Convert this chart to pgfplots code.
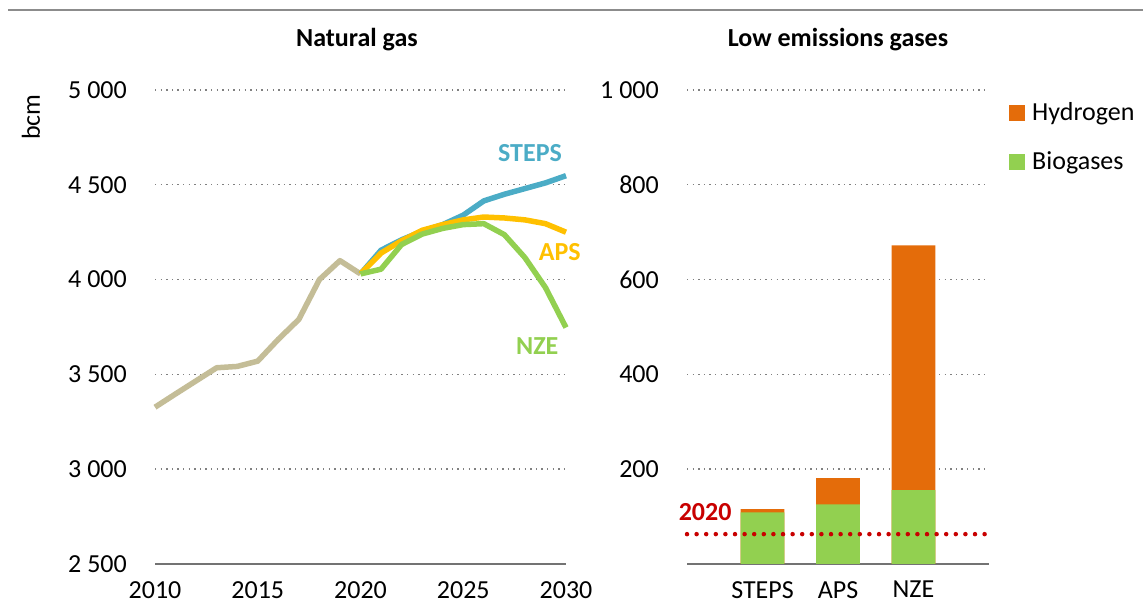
\documentclass[border=0pt]{standalone}
\usepackage{fontspec}
\setmainfont{Carlito}
\usepackage{pgfplots}
\pgfplotsset{compat=1.18}
\definecolor{histc}{RGB}{196,189,151}
\definecolor{stepsc}{RGB}{75,172,198}
\definecolor{apsc}{RGB}{255,192,0}
\definecolor{nzec}{RGB}{146,208,80}
\definecolor{h2c}{RGB}{228,108,10}
\definecolor{bioc}{RGB}{146,208,80}
\definecolor{redc}{RGB}{200,0,0}
\newcommand{\bigf}{\fontsize{26}{31}\selectfont}
\pgfplotsset{mystyle/.style={
  scale only axis, height=474pt, clip=false,
  axis x line*=bottom, axis y line*=left,
  y axis line style={draw=none},
  x axis line style={draw=black!55, line width=2pt, -},
  major tick length=0pt,
  ymajorgrids,
  grid style={draw=black!50, line width=1.4pt, dash pattern=on 1.4pt off 4.2pt},
  tick label style={font=\bigf, inner sep=0pt},
  /pgf/number format/assume math mode=true,
  /pgf/number format/1000 sep={\ },
  yticklabel style={anchor=east, xshift=-28pt},
  xticklabel style={anchor=north, yshift=-17pt},
}}
\begin{document}
\begin{tikzpicture}[x=1pt,y=1pt]
\useasboundingbox (0,0) rectangle (1143,604);
\draw[black!45, line width=2pt] (8,594) -- (1143,594);
\node[font=\bigf\bfseries] at (357,564) {Natural gas};
\node[font=\bigf\bfseries] at (838,564) {Low emissions gases};
\node[font=\bigf, rotate=90] at (31,487) {bcm};

\begin{axis}[mystyle, at={(155pt,40pt)}, anchor=south west, width=411pt,
  xmin=2010, xmax=2030, ymin=2500, ymax=5000,
  xtick={2010,2015,2020,2025,2030},
  ytick={2500,3000,3500,4000,4500,5000},
  xticklabel style={/pgf/number format/1000 sep={}},
  every axis plot/.append style={line width=5.5pt, line join=round, no markers}]
\addplot[histc] coordinates {(2010,3327) (2011,3397) (2012,3466) (2013,3535) (2014,3542) (2015,3570) (2016,3685) (2017,3790) (2018,4000) (2019,4100) (2020,4030)};
\addplot[stepsc] coordinates {(2020,4030) (2021,4155) (2022,4210) (2023,4255) (2024,4290) (2025,4340) (2026,4415) (2027,4450) (2028,4480) (2029,4510) (2030,4548)};
\addplot[apsc] coordinates {(2020,4030) (2021,4140) (2022,4205) (2023,4260) (2024,4290) (2025,4315) (2026,4330) (2027,4325) (2028,4315) (2029,4295) (2030,4250)};
\addplot[nzec] coordinates {(2020,4030) (2021,4055) (2022,4185) (2023,4240) (2024,4270) (2025,4290) (2026,4295) (2027,4237) (2028,4116) (2029,3958) (2030,3747)};
\node[font=\bigf\bfseries, text=stepsc] at (axis cs:2028.25,4668) {STEPS};
\node[font=\bigf\bfseries, text=apsc] at (axis cs:2029.7,4147) {APS};
\node[font=\bigf\bfseries, text=nzec] at (axis cs:2028.6,3647) {NZE};
\end{axis}

\begin{axis}[mystyle, at={(687pt,40pt)}, anchor=south west, width=302pt,
  xmin=-1, xmax=3, ymin=0, ymax=1000,
  xtick={0,1,2}, xticklabels={STEPS,APS,NZE},
  ytick={200,400,600,800,1000},
  legend style={at={(1.065,0.974)}, anchor=north west, draw=none, fill=none,
    font=\bigf, row sep=30pt, inner sep=0pt,
    nodes={inner sep=0pt, anchor=west}},
  legend cell align=left]
\addplot[ybar, bar width=0.58, bar shift=0pt, fill=h2c, draw=none, forget plot] coordinates {(0,116) (1,181) (2,672)};
\addplot[ybar, bar width=0.58, bar shift=0pt, fill=bioc, draw=none, forget plot] coordinates {(0,109) (1,126) (2,156)};
\addplot[redc, line width=4.5pt, line cap=round, dash pattern=on 0pt off 9.6pt, forget plot] coordinates {(-1,63) (3,63)};
\node[font=\bigf\bfseries, text=redc] at (axis cs:-0.76,109) {2020};
\addlegendimage{legend image code/.code={\fill[h2c] (0pt,-7.5pt) rectangle (15pt,7.5pt);}}
\addlegendentry{\hspace{8pt}Hydrogen}
\addlegendimage{legend image code/.code={\fill[bioc] (0pt,-7.5pt) rectangle (15pt,7.5pt);}}
\addlegendentry{\hspace{8pt}Biogases}
\end{axis}
\end{tikzpicture}
\end{document}
